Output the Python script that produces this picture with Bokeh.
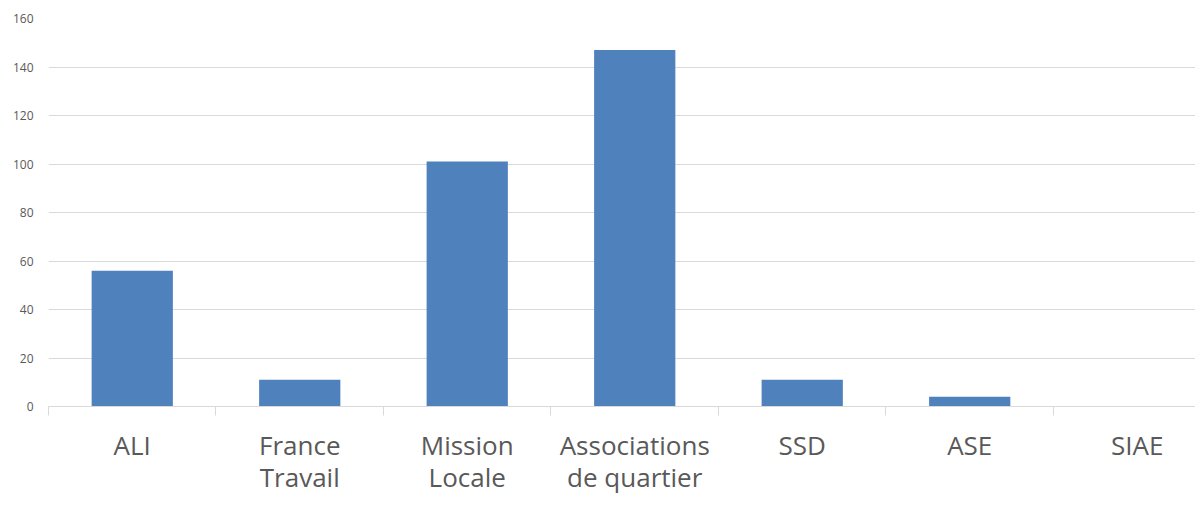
from bokeh.plotting import figure
from bokeh.models import Range1d, FixedTicker
from bokeh.embed import file_html
from bokeh.resources import INLINE

# Data
categories = ["ALI", "France\nTravail", "Mission\nLocale", "Associations\nde quartier",
              "SSD", "ASE", "SIAE"]
values = [56, 11, 101, 147, 11, 4, 0]
y_ticks = [0, 20, 40, 60, 80, 100, 120, 140, 160]

positions = [i + 0.5 for i in range(len(categories))]
boundaries = list(range(len(categories) + 1))

p = figure(width=1195, height=497, output_backend="svg", toolbar_location=None,
           x_range=Range1d(0, 6.848), y_range=Range1d(0, 160),
           min_border_left=48, min_border_right=0, min_border_top=18,
           min_border_bottom=83)
p.outline_line_color = None
p.background_fill_color = "white"
p.border_fill_color = "white"

p.vbar(x=positions, top=values, width=0.485, fill_color="#4F81BD", line_color=None)

# y axis
p.yaxis.ticker = FixedTicker(ticks=y_ticks)
p.yaxis.axis_line_color = None
p.yaxis.major_tick_line_color = None
p.yaxis.minor_tick_line_color = None
p.yaxis.major_tick_out = 0
p.yaxis.major_label_standoff = 15
p.yaxis.major_label_text_font = "Open Sans"
p.yaxis.major_label_text_font_size = "12px"
p.yaxis.major_label_text_color = "#595959"
p.ygrid.ticker = FixedTicker(ticks=y_ticks)
p.ygrid.grid_line_color = "#d9d9d9"
p.ygrid.grid_line_width = 1

# x axis
p.xgrid.grid_line_color = None
p.xaxis.ticker = FixedTicker(ticks=positions, minor_ticks=boundaries)
p.xaxis.major_label_overrides = {pos: cat for pos, cat in zip(positions, categories)}
p.xaxis.axis_line_color = "#d9d9d9"
p.xaxis.major_tick_line_color = None
p.xaxis.major_tick_out = 0
p.xaxis.major_tick_in = 0
p.xaxis.minor_tick_line_color = "#d9d9d9"
p.xaxis.minor_tick_out = 9
p.xaxis.minor_tick_in = 0
p.xaxis.major_label_standoff = 11
p.xaxis.major_label_text_font = "Open Sans"
p.xaxis.major_label_text_font_size = "26px"
p.xaxis.major_label_text_line_height = 0.9
p.xaxis.major_label_text_color = "#595959"

open("out.html", "w").write(file_html(p, INLINE))
